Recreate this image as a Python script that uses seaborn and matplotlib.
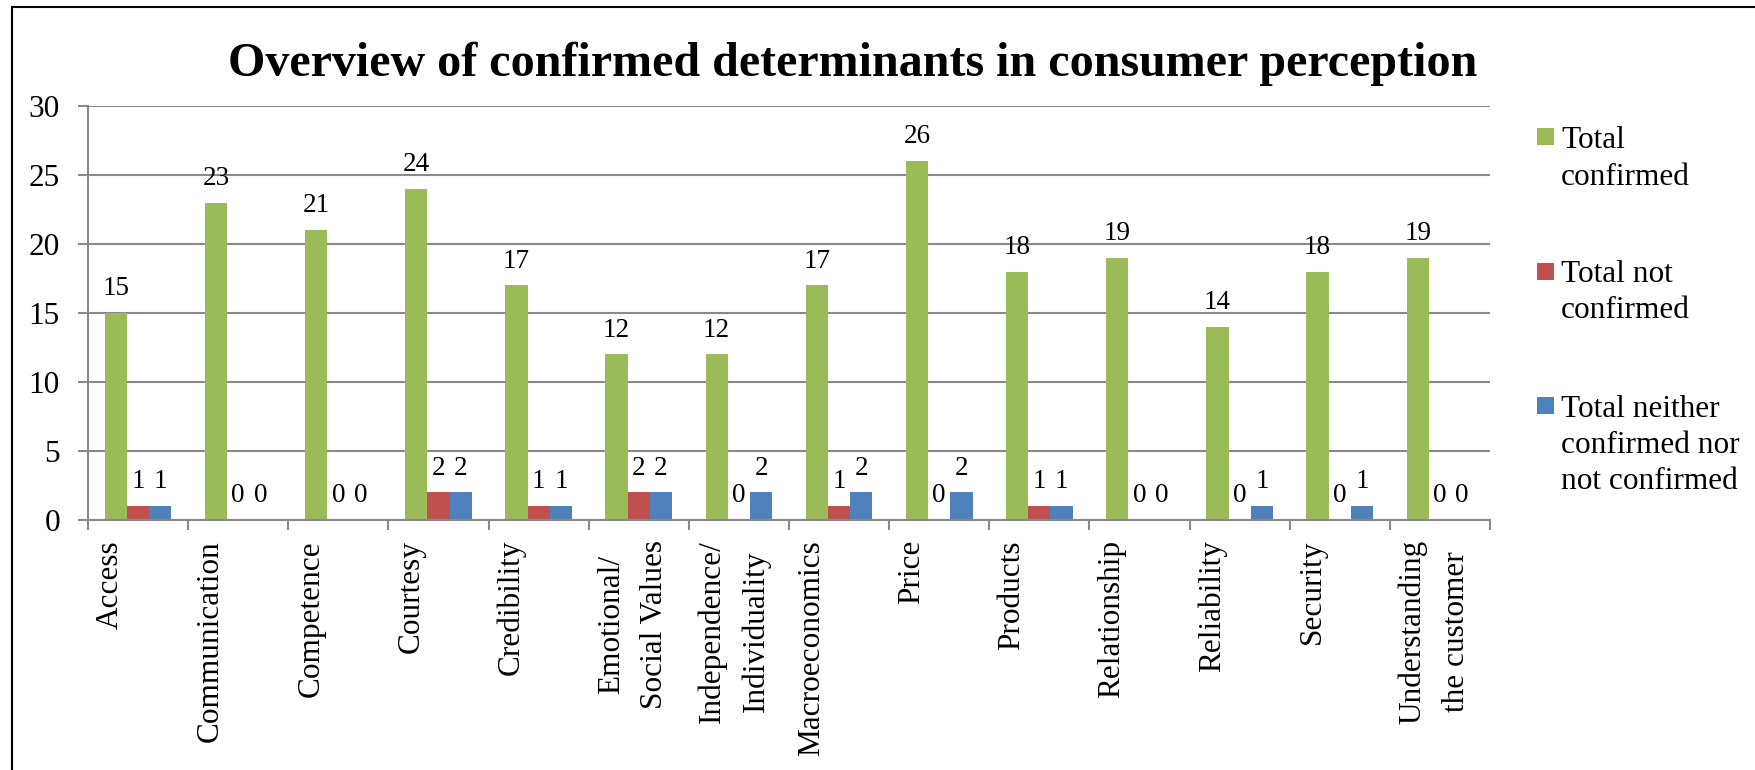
import numpy as np
import pandas as pd
import seaborn as sns
import matplotlib.pyplot as plt
from matplotlib.patches import Rectangle
from matplotlib.transforms import ScaledTranslation
from matplotlib.font_manager import FontProperties

# ---- data -------------------------------------------------------------
categories = [
    "Access", "Communication", "Competence", "Courtesy", "Credibility",
    "Emotional/\nSocial Values", "Independence/\nIndividuality",
    "Macroeconomics", "Price", "Products", "Relationship", "Reliability",
    "Security", "Understanding\nthe customer",
]
series = [
    "Total\nconfirmed",
    "Total not\nconfirmed",
    "Total neither\nconfirmed nor\nnot confirmed",
]
total_confirmed = [15, 23, 21, 24, 17, 12, 12, 17, 26, 18, 19, 14, 18, 19]
total_not_confirmed = [1, 0, 0, 2, 1, 2, 0, 1, 0, 1, 0, 0, 0, 0]
total_neither = [1, 0, 0, 2, 1, 2, 2, 2, 2, 1, 0, 1, 1, 0]
y_ticks = [0, 5, 10, 15, 20, 25, 30]
title = "Overview of confirmed determinants in consumer perception"

colors = ["#9BBB59", "#C0504D", "#4F81BD"]
grid_gray = "#898989"

# ---- figure setup -----------------------------------------------------
W, H, DPI = 1755, 770, 100
sns.set_theme(style="white")
plt.rcParams["font.family"] = ["Liberation Serif", "DejaVu Serif"]
plt.rcParams.update({
    "text.color": "black",
    "axes.labelcolor": "black",
    "xtick.color": "black",
    "ytick.color": "black",
})
FS = 22.5
LINE_STEP = 36.4  # px between baselines of wrapped labels

df = pd.DataFrame({
    "category": list(categories) * len(series),
    "series": np.repeat(series, len(categories)),
    "value": total_confirmed + total_not_confirmed + total_neither,
})

fig = plt.figure(figsize=(W / DPI, H / DPI), dpi=DPI)
renderer = fig.canvas.get_renderer()

# line spacing factor giving LINE_STEP for multi-line tick labels
_, lp_h, lp_d = renderer.get_text_width_height_descent(
    "lp", FontProperties(family="Liberation Serif", size=FS), False)
line_sp = LINE_STEP / (lp_h - lp_d)

ax = fig.add_axes([88 / W, 1 - 520 / H, (1490 - 88) / W, (520 - 106) / H])
sns.barplot(
    data=df, x="category", y="value", hue="series",
    order=categories, hue_order=series, palette=colors,
    saturation=1, width=0.667, gap=0, errorbar=None,
    linewidth=0, legend=False, ax=ax,
)

ax.set_ylim(0, 30)
ax.set_xlim(-0.5, len(categories) - 0.5)
ax.set_xlabel("")
ax.set_ylabel("")

# gridlines and spines
ax.set_axisbelow(True)
ax.yaxis.grid(True, color=grid_gray, linewidth=1.5)
for side in ("top", "right"):
    ax.spines[side].set_visible(False)
for side in ("left", "bottom"):
    ax.spines[side].set_color(grid_gray)
    ax.spines[side].set_linewidth(1.5)

# y axis ticks
ax.set_yticks(y_ticks)
ax.tick_params(axis="y", left=True, length=7.2, width=1.5, color=grid_gray,
               pad=13, labelsize=FS, labelcolor="black")

# x axis: category boundaries carry the tick marks
ax.set_xticks(np.arange(-0.5, len(categories), 1.0), minor=True)
ax.tick_params(axis="x", which="minor", bottom=True, length=7.2, width=1.5,
               color=grid_gray)
ax.set_xticks(range(len(categories)))
ax.set_xticklabels(categories, rotation=90, ha="left", va="top",
                   multialignment="center", fontsize=FS,
                   linespacing=line_sp, color="black")
ax.tick_params(axis="x", which="major", bottom=True, length=0, pad=14.4,
               labelcolor="black")
shift = ScaledTranslation(-42 / DPI, 0, fig.dpi_scale_trans)
for lab in ax.get_xticklabels():
    lab.set_transform(lab.get_transform() + shift)

# value labels above every bar
for cont in ax.containers:
    ax.bar_label(cont, fmt="{:g}", padding=8.5, fontsize=19.5, color="black")

# ---- title --------------------------------------------------------------
fig.text(853 / W, 1 - 75.5 / H, title, ha="center", va="baseline",
         fontsize=34.6, fontweight="bold", color="black")

# ---- legend -------------------------------------------------------------
sq = 17
square_tops = [128, 263, 397]
first_baselines = [148.3, 281.7, 416.7]
for lab, col, top, base in zip(series, colors, square_tops, first_baselines):
    fig.add_artist(Rectangle((1537 / W, 1 - (top + sq) / H), sq / W, sq / H,
                             transform=fig.transFigure, facecolor=col,
                             edgecolor="none"))
    for k, line in enumerate(lab.split("\n")):
        fig.text(1561 / W, 1 - (base + k * LINE_STEP) / H, line,
                 ha="left", va="baseline", fontsize=FS, color="black")

# ---- outer frame (runs off the right and bottom edges) ------------------
fig.add_artist(Rectangle((12 / W, -0.2), 1.5, 1 - 7 / H + 0.2,
                         transform=fig.transFigure, fill=False,
                         edgecolor="black", linewidth=1.5, clip_on=False))

fig.savefig("out.png", dpi=DPI)
